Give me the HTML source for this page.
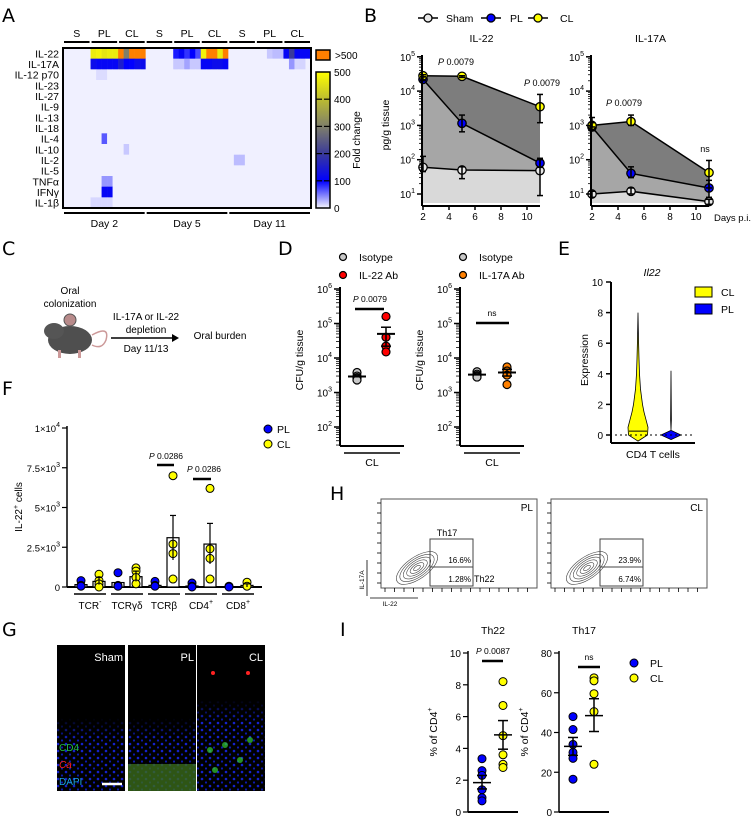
<!DOCTYPE html>
<html><head><meta charset="utf-8"><style>
html,body{margin:0;padding:0;background:#fff}
svg{display:block;font-family:"Liberation Sans",Arial,sans-serif}
</style></head><body>
<svg id="fig" width="756" height="816" viewBox="0 0 756 816" xmlns="http://www.w3.org/2000/svg">
<defs>
<linearGradient id="cbar" x1="0" y1="1" x2="0" y2="0">
<stop offset="0" stop-color="#f4f4fc"/><stop offset="0.2" stop-color="#0000ff"/><stop offset="0.4" stop-color="#3a3a9a"/><stop offset="0.6" stop-color="#7f7f6a"/><stop offset="0.8" stop-color="#bcbc30"/><stop offset="1" stop-color="#ffff00"/>
</linearGradient>
<pattern id="nuc" width="8" height="7" patternUnits="userSpaceOnUse"><circle cx="2" cy="2" r="1.3" fill="#1a2aff"/><circle cx="6" cy="5.5" r="1.1" fill="#1020e0"/></pattern>
<linearGradient id="fadeB" x1="0" y1="0" x2="0" y2="1"><stop offset="0" stop-color="#000" stop-opacity="1"/><stop offset="1" stop-color="#000" stop-opacity="0"/></linearGradient>
</defs>
<g font-family="DejaVu Sans, sans-serif" font-size="19" fill="#000">
<text x="2" y="22">A</text>
<text x="364" y="22">B</text>
<text x="2" y="255">C</text>
<text x="278" y="255">D</text>
<text x="558" y="255">E</text>
<text x="2" y="395">F</text>
<text x="2" y="636">G</text>
<text x="330" y="500">H</text>
<text x="340" y="636">I</text>
</g>
</svg>
<script>
const NS='http://www.w3.org/2000/svg';
const svg=document.getElementById('fig');
function mk(tag,attrs,name,parent){
  const el=document.createElementNS(NS,tag);
  for(const k in attrs) el.setAttribute(k,attrs[k]);
  
  
  (parent||svg).appendChild(el);
  return el;
}
function tx(x,y,s,name,o){
  o=o||{};
  const el=mk('text',{x:x,y:y,'font-size':o.fs||10,'text-anchor':o.a||'start',fill:o.fill||'#000'},name);
  if(o.it) el.setAttribute('font-style','italic');
  if(o.rot) el.setAttribute('transform','rotate(-90 '+x+' '+y+')');
  el.innerHTML=s;
  return el;
}
function ln(x1,y1,x2,y2,name,w,c){return mk('line',{x1:x1,y1:y1,x2:x2,y2:y2,stroke:c||'#000','stroke-width':w||1},name);}

/* ========== A: heatmap ========== */
const hmRows=['IL-22','IL-17A','IL-12 p70','IL-23','IL-27','IL-9','IL-13','IL-18','IL-4','IL-10','IL-2','IL-5','TNFα','IFNγ','IL-1β'];
const hmGroups=['S','PL','CL','S','PL','CL','S','PL','CL'];
const hmDays=['Day 2','Day 5','Day 11'];
const hmBase=4;
const hmHigh=[
[0,5,470],[0,6,480],[0,7,460],[0,8,470],[0,9,470],[0,10,600],[0,11,300],[0,12,600],[0,13,600],[0,14,600],
[0,20,90],[0,21,110],[0,22,80],[0,23,100],[0,24,70],[0,25,480],[0,26,600],[0,27,600],[0,28,470],[0,29,600],
[0,37,20],[0,38,25],[0,39,25],[0,40,110],[0,41,200],[0,42,110],[0,43,110],[0,44,110],
[1,5,120],[1,6,110],[1,7,110],[1,8,110],[1,9,110],[1,10,150],[1,11,100],[1,12,100],[1,13,120],[1,14,120],
[1,20,20],[1,21,20],[1,22,35],[1,23,20],[1,24,20],[1,25,110],[1,26,110],[1,27,120],[1,28,120],[1,29,110],[1,41,40],[1,42,15],[1,43,15],
[2,6,12],[2,7,12],[8,7,65],[9,11,20],[12,7,40],[12,8,40],[13,7,110],[13,8,110],[10,31,25],[10,32,25],[14,5,14],[14,6,14],[14,7,14],[14,8,14]
];
function hmColor(v){
  if(v>500) return '#ff8000';
  const st=[[0,[250,250,255]],[100,[0,0,255]],[200,[58,58,154]],[300,[127,127,106]],[400,[188,188,48]],[500,[255,255,0]]];
  for(let i=1;i<st.length;i++){ if(v<=st[i][0]){const a=st[i-1],b=st[i];const t=(v-a[0])/(b[0]-a[0]);
    return 'rgb('+a[1].map((c,j)=>Math.round(c+(b[1][j]-c)*t)).join(',')+')';}}
  return '#ffff00';
}
const hx0=63,hx1=311,hy0=48,hy1=208,nCols=45;
const cw=(hx1-hx0)/nCols, rh=(hy1-hy0)/hmRows.length;
const gHm=mk('g',{},'heatmap');
const vals=hmRows.map(()=>new Array(nCols).fill(hmBase));
hmHigh.forEach(h=>{vals[h[0]][h[1]]=h[2];});
vals.forEach((row,r)=>row.forEach((v,c)=>{
  const cell=mk('rect',{x:hx0+c*cw,y:hy0+r*rh,width:cw+0.3,height:rh+0.3,fill:hmColor(v)},'heatmap-cell',gHm);
}));
mk('rect',{x:hx0,y:hy0,width:hx1-hx0,height:hy1-hy0,fill:'none',stroke:'#000','stroke-width':2},'heatmap-border');
hmRows.forEach((n,r)=>tx(59,hy0+r*rh+rh/2+4,n,'row-label',{a:'end',fs:10.5}));
hmGroups.forEach((g,i)=>{
  const xa=hx0+i*5*cw+1, xb=hx0+(i+1)*5*cw-1;
  ln(xa,42,xb,42,'group-bracket',2);
  tx((xa+xb)/2,37,g,'group-label',{a:'middle',fs:10.5});
});
hmDays.forEach((d,i)=>{
  const xa=hx0+i*15*cw+1, xb=hx0+(i+1)*15*cw-1;
  ln(xa,213,xb,213,'day-bracket',2);
  tx((xa+xb)/2,227,d,'day-label',{a:'middle',fs:10.5});
});
mk('rect',{x:316,y:50,width:14,height:10,fill:'#ff8000',stroke:'#000','stroke-width':1.5},'colorbar-over');
tx(335,59,'&gt;500','colorbar-over-label',{fs:10});
mk('rect',{x:316,y:72,width:14,height:136,fill:'url(#cbar)',stroke:'#000','stroke-width':1.5},'colorbar');
const cbTicks=[0,100,200,300,400,500];
cbTicks.forEach(t=>{const y=208-t/500*136;
  if(t>0&&t<500){ln(316,y,322,y,'colorbar-dash',1.2);ln(324,y,330,y,'colorbar-dash',1.2);}
  tx(334,y+4,String(t),'colorbar-tick',{fs:10});
});
tx(360,140,'Fold change','colorbar-title',{rot:true,a:'middle',fs:10.5});

/* ========== B: line plots ========== */
const bDays=[2,5,11];
const il22Sham=[60,50,48], il22PL=[22000,1150,80], il22CL=[28000,27000,3500];
const il22ShamErr=[[45,125],[28,62],[9,100]], il22PLErr=[[20000,26000],[650,2000],[60,110]], il22CLErr=[[26000,30000],[25000,28000],[1200,8000]];
const il17Sham=[10,12,6], il17PL=[900,40,15], il17CL=[1000,1300,42];
const il17ShamErr=[[8,12],[10,15],[5,7]], il17PLErr=[[700,1700],[30,62],[8,25]], il17CLErr=[[900,1200],[1000,2000],[15,95]];
const bXTicks=[2,4,6,8,10];
const bYTicks=[1,2,3,4,5];
function logY(v){return 194-(Math.log10(v)-1)*34.3;}
function drawB(x2,title,sham,pl,cl,se,pe,ce,name){
  const X=d=>x2+(d-2)*13.0;
  const yb=203;
  const g=mk('g',{},name);
  const pts=a=>a.map((v,i)=>X(bDays[i])+','+logY(v)).join(' ');
  const rev=a=>a.map((v,i)=>X(bDays[i])+','+logY(v)).reverse().join(' ');
  mk('polygon',{points:X(2)+','+yb+' '+pts(sham)+' '+X(11)+','+yb,fill:'#d9d9d9'},'area-sham',g);
  mk('polygon',{points:pts(sham)+' '+rev(pl),fill:'#a6a6a6'},'area-pl',g);
  mk('polygon',{points:pts(pl)+' '+rev(cl),fill:'#7d7d7d'},'area-cl',g);
  [[sham,se,'none','sham'],[pl,pe,'#0000ff','pl'],[cl,ce,'#ffff00','cl']].forEach(s=>{
    mk('polyline',{points:pts(s[0]),fill:'none',stroke:'#000','stroke-width':1.5},'line-'+s[3],g);
    s[0].forEach((v,i)=>{const x=X(bDays[i]);
      ln(x,logY(s[1][i][0]),x,logY(s[1][i][1]),'errorbar-'+s[3],1.5);
      ln(x-3,logY(s[1][i][0]),x+3,logY(s[1][i][0]),'errorcap',1.5);
      ln(x-3,logY(s[1][i][1]),x+3,logY(s[1][i][1]),'errorcap',1.5);
      mk('circle',{cx:x,cy:logY(v),r:4.2,fill:s[2]==='none'?'#e8e8e8':s[2],stroke:'#000','stroke-width':1.3},'point-'+s[3],g);
    });
  });
  ln(x2-1,55,x2-1,206,'y-axis',2);
  ln(x2-1,206,X(11),206,'x-axis',2);
  bYTicks.forEach(p=>{const y=logY(Math.pow(10,p));ln(x2-6,y,x2-1,y,'y-tick',1.5);
    tx(x2-8,y+4,'10<tspan font-size="7" dy="-5">'+p+'</tspan>','y-tick-label',{a:'end',fs:10});
    for(let m=2;m<10&&p<5;m++){const ym=logY(m*Math.pow(10,p));ln(x2-4,ym,x2-1,ym,'minor-tick',0.8);}
  });
  bXTicks.forEach(d=>{ln(X(d),206,X(d),210,'x-tick',1.5);tx(X(d),220,String(d),'x-tick-label',{a:'middle',fs:10});});
  tx((x2+X(11))/2,42,title,'plot-title',{a:'middle',fs:10.5});
  return X;
}
drawB(423,'IL-22',il22Sham,il22PL,il22CL,il22ShamErr,il22PLErr,il22CLErr,'il22-plot');
drawB(592,'IL-17A',il17Sham,il17PL,il17CL,il17ShamErr,il17PLErr,il17CLErr,'il17a-plot');
tx(389,125,'pg/g tissue','y-axis-title',{rot:true,a:'middle',fs:10.5});
tx(714,221,'Days p.i.','x-axis-title',{fs:9.5});
tx(456,65,'<tspan font-style="italic">P</tspan> 0.0079','p-value',{a:'middle',fs:9});
tx(542,86,'<tspan font-style="italic">P</tspan> 0.0079','p-value',{a:'middle',fs:9});
tx(624,106,'<tspan font-style="italic">P</tspan> 0.0079','p-value',{a:'middle',fs:9});
tx(705,152,'ns','ns-label',{a:'middle',fs:9});
[['Sham','#e8e8e8',418,446],['PL','#0000ff',481,510],['CL','#ffff00',528,560]].forEach(l=>{
  ln(l[2],18,l[2]+20,18,'legend-line',1.5);
  mk('circle',{cx:l[2]+10,cy:18,r:4,fill:l[1],stroke:'#000','stroke-width':1.3},'legend-marker');
  tx(l[3],22,l[0],'legend-label',{fs:10.5});
});

/* ========== C: schematic ========== */
tx(70,294,'Oral','schematic-text',{a:'middle',fs:10});
tx(70,307,'colonization','schematic-text',{a:'middle',fs:10});
const mouse=mk('g',{},'mouse-illustration');
mk('path',{d:'M92 335 Q110 325 106 340 Q102 350 92 345',fill:'none',stroke:'#c99','stroke-width':1.5},'mouse-tail',mouse);
mk('ellipse',{cx:70,cy:340,rx:22,ry:14,fill:'#4f4f4f'},'mouse-body',mouse);
mk('ellipse',{cx:54,cy:331,rx:10,ry:8,fill:'#555'},'mouse-head',mouse);
mk('circle',{cx:70,cy:320,r:6,fill:'#b88b8b',stroke:'#555'},'mouse-ear',mouse);
mk('rect',{x:58,y:350,width:3,height:8,fill:'#c99'},'mouse-leg',mouse);
mk('rect',{x:78,y:350,width:3,height:8,fill:'#c99'},'mouse-leg',mouse);
tx(146,320,'IL-17A or IL-22','schematic-text',{a:'middle',fs:10});
tx(146,333,'depletion','schematic-text',{a:'middle',fs:10});
ln(111,338,172,338,'arrow-line',1.5);
mk('polygon',{points:'172,334 179,338 172,342',fill:'#000'},'arrow-head');
tx(146,352,'Day 11/13','schematic-text',{a:'middle',fs:10});
tx(220,339,'Oral burden','schematic-text',{a:'middle',fs:10});

/* ========== D: CFU scatter ========== */
const dIso1=[3800,3000,2700,2500,2300], dAb22=[160000,40000,22000,15000];
const dIso1Mean=2900, dAb22Mean=50000, dAb22Err=[22000,78000];
const dIso2=[4000,3400,3100,2900,2800], dAb17=[5500,4200,3200,1700];
const dIso2Mean=3300, dAb17Mean=3800, dAb17Err=[3000,4700];
const dTicks=[2,3,4,5,6];
const dY=v=>289+(6-Math.log10(v))*34.5;
function drawD(ax,xi,xa,iso,ab,im,am,ae,col,name){
  const g=mk('g',{},name);
  ln(ax,287,ax,446,'y-axis',2); ln(ax,446,ax+64,446,'x-axis',2);
  ln(ax+4,453,ax+60,453,'group-line',1.5);
  tx(ax+32,466,'CL','x-label',{a:'middle',fs:10.5});
  dTicks.forEach(p=>{const y=dY(Math.pow(10,p));ln(ax-6,y,ax,y,'y-tick',1.5);
    tx(ax-8,y+4,'10<tspan font-size="7" dy="-5">'+p+'</tspan>','y-tick-label',{a:'end',fs:10});
    for(let m=2;m<10;m++){const ym=dY(m*Math.pow(10,p-1));if(ym<446)ln(ax-4,ym,ax,ym,'minor-tick',0.8);}
  });
  iso.forEach(v=>mk('circle',{cx:xi,cy:dY(v),r:4,fill:'#c8c8c8',stroke:'#000','stroke-width':1.2},'point-isotype',g));
  ab.forEach(v=>mk('circle',{cx:xa,cy:dY(v),r:4,fill:col,stroke:'#000','stroke-width':1.2},'point-antibody',g));
  ln(xi-9,dY(im),xi+9,dY(im),'mean-line',2);
  ln(xa-9,dY(am),xa+9,dY(am),'mean-line',2);
  ln(xa,dY(ae[0]),xa,dY(ae[1]),'errorbar',1.5);
  ln(xa-5,dY(ae[0]),xa+5,dY(ae[0]),'errorcap',1.5);ln(xa-5,dY(ae[1]),xa+5,dY(ae[1]),'errorcap',1.5);
}
drawD(340,357,386,dIso1,dAb22,dIso1Mean,dAb22Mean,dAb22Err,'#ff0000','d-il22-plot');
drawD(460,477,507,dIso2,dAb17,dIso2Mean,dAb17Mean,dAb17Err,'#ff8000','d-il17a-plot');
tx(303,360,'CFU/g tissue','y-axis-title',{rot:true,a:'middle',fs:10.5});
tx(423,360,'CFU/g tissue','y-axis-title',{rot:true,a:'middle',fs:10.5});
ln(355,309,384,309,'sig-bar',2.5);
tx(370,302,'<tspan font-style="italic">P</tspan> 0.0079','p-value',{a:'middle',fs:8.5});
ln(476,323,509,323,'sig-bar',2.5);
tx(492,316,'ns','ns-label',{a:'middle',fs:8.5});
[[343,257,'#c8c8c8','Isotype'],[343,275,'#ff0000','IL-22 Ab'],[463,257,'#c8c8c8','Isotype'],[463,275,'#ff8000','IL-17A Ab']].forEach(l=>{
  mk('circle',{cx:l[0],cy:l[1],r:3.5,fill:l[2],stroke:'#000','stroke-width':1.2},'legend-marker');
  tx(l[0]+16,l[1]+4,l[3],'legend-label',{fs:10.5});
});

/* ========== E: violin ========== */
const eTicks=[0,2,4,6,8,10];
const eCLLevels=[-0.4,0,0.5,1,1.5,2,2.5,3,4,5,6,7,8];
const eCLWidth=[0,9.5,10,8,6,4.5,3.5,2.5,1.5,1,0.6,0.3,0];
const ePLLevels=[-0.3,0,0.3,1,4.2];
const ePLWidth=[0,10,0,0.4,0];
const eY=v=>435-v*15.3;
ln(611,282,611,443,'y-axis',2); ln(611,443,695,443,'x-axis',2);
eTicks.forEach(t=>{ln(606,eY(t),611,eY(t),'y-tick',1.5);tx(603,eY(t)+4,String(t),'y-tick-label',{a:'end',fs:10});});
function violin(cx,lv,wd,col,name){
  let d='M'+(cx)+','+eY(lv[0]);
  lv.forEach((v,i)=>{d+=' L'+(cx+wd[i])+','+eY(v);});
  for(let i=lv.length-1;i>=0;i--) d+=' L'+(cx-wd[i])+','+eY(lv[i]);
  mk('path',{d:d+'Z',fill:col,stroke:'#000','stroke-width':0.8},name);
}
violin(638,eCLLevels,eCLWidth,'#ffff00','violin-cl');
violin(671,ePLLevels,ePLWidth,'#0000ff','violin-pl');
ln(629,eY(0.25),647,eY(0.25),'median-line',1);
ln(615,eY(0),692,eY(0),'zero-line',1).setAttribute('stroke-dasharray','2,3');
tx(652,276,'Il22','gene-title',{a:'middle',fs:10.5,it:true});
tx(588,360,'Expression','y-axis-title',{rot:true,a:'middle',fs:10.5});
tx(653,458,'CD4 T cells','x-label',{a:'middle',fs:10.5});
mk('rect',{x:695,y:287,width:17,height:10,fill:'#ffff00',stroke:'#000','stroke-width':1},'legend-swatch-cl');
tx(721,296,'CL','legend-label',{fs:10.5});
mk('rect',{x:695,y:304,width:17,height:10,fill:'#0000ff',stroke:'#000','stroke-width':1},'legend-swatch-pl');
tx(721,313,'PL','legend-label',{fs:10.5});

/* ========== F: bar chart ========== */
const fCats=['TCR<tspan font-size="7" dy="-5">-</tspan>','TCRγδ','TCRβ','CD4<tspan font-size="7" dy="-5">+</tspan>','CD8<tspan font-size="7" dy="-5">+</tspan>'];
const fPL=[[400,100,50],[900,100,50],[350,100,50],[250,50,0],[50,0]];
const fCL=[[800,400,200,0],[1200,1000,600,200],[7000,2700,2100,500],[6200,2400,1800,500],[300,50]];
const fPLMean=[150,280,100,60,20];
const fCLMean=[350,650,3100,2700,100];
const fCLErr=[[150,600],[350,1000],[1700,4500],[1450,4000],[0,200]];
const fYTicks=[0,2500,5000,7500,10000];
const fYLabels=['0','2.5×10<tspan font-size="7" dy="-5">3</tspan>','5×10<tspan font-size="7" dy="-5">3</tspan>','7.5×10<tspan font-size="7" dy="-5">3</tspan>','1×10<tspan font-size="7" dy="-5">4</tspan>'];
const fY=v=>587-v*0.0159;
const fX0=[81,118,155,192,229];
ln(67,426,67,587,'y-axis',1.5); ln(67,587,262,587,'x-axis',2);
fYTicks.forEach((t,i)=>{ln(62,fY(t),67,fY(t),'y-tick',1.2);tx(60,fY(t)+4,fYLabels[i],'y-tick-label',{a:'end',fs:9.5});});
fCats.forEach((c,i)=>{
  const xp=fX0[i], xc=xp+18;
  [[xp,fPLMean[i],fPL[i],'#0000ff','pl'],[xc,fCLMean[i],fCL[i],'#ffff00','cl']].forEach(s=>{
    mk('rect',{x:s[0]-6,y:fY(s[1]),width:12,height:587-fY(s[1]),fill:'#fff',stroke:'#000','stroke-width':1.2},'bar-'+s[4]);
    s[2].forEach(v=>mk('circle',{cx:s[0],cy:fY(v),r:4,fill:s[3],stroke:'#000','stroke-width':1},'point-'+s[4]));
  });
  ln(xc,fY(fCLErr[i][0]),xc,fY(fCLErr[i][1]),'errorbar',1.2);
  ln(xc-3,fY(fCLErr[i][1]),xc+3,fY(fCLErr[i][1]),'errorcap',1.2);
  ln(xp-7,594,xc+7,594,'group-line',1.5);
  tx(xp+9,609,c,'x-label',{a:'middle',fs:10});
});
tx(22,507,'IL-22<tspan font-size="7" dy="-4">+</tspan><tspan dy="4"> cells</tspan>','y-axis-title',{rot:true,a:'middle',fs:10});
ln(157,465,174,465,'sig-bar',2.5);
tx(166,459,'<tspan font-style="italic">P</tspan> 0.0286','p-value',{a:'middle',fs:8.5});
ln(193,479,211,479,'sig-bar',2.5);
tx(204,472,'<tspan font-style="italic">P</tspan> 0.0286','p-value',{a:'middle',fs:8.5});
mk('circle',{cx:268,cy:429,r:4,fill:'#0000ff',stroke:'#000'},'legend-marker-pl');
tx(277,433,'PL','legend-label',{fs:10.5});
mk('circle',{cx:268,cy:444,r:4,fill:'#ffff00',stroke:'#000'},'legend-marker-cl');
tx(277,448,'CL','legend-label',{fs:10.5});

/* ========== G: micrographs ========== */
[[57,'Sham',0],[128,'PL',1],[197,'CL',2]].forEach(p=>{
  const g=mk('g',{},'micrograph-'+p[1].toLowerCase());
  mk('rect',{x:p[0],y:645,width:68,height:146,fill:'#000'},'micrograph-bg',g);
  mk('rect',{x:p[0],y:p[2]===2?700:718,width:68,height:p[2]===2?91:73,fill:'url(#nuc)',opacity:0.8},'nuclei',g);
  mk('rect',{x:p[0],y:p[2]===2?700:718,width:68,height:22,fill:'url(#fadeB)'},'fade',g);
  if(p[2]===1) mk('rect',{x:p[0],y:764,width:68,height:27,fill:'#3a6a1a',opacity:0.8},'muscle',g);
  if(p[2]===2){[[210,750],[225,745],[240,760],[215,770],[250,740]].forEach(c=>mk('circle',{cx:c[0],cy:c[1],r:3,fill:'#3c3',opacity:0.7},'cd4-cell',g));
    mk('circle',{cx:213,cy:673,r:2,fill:'#f22'},'candida',g);mk('circle',{cx:248,cy:673,r:2,fill:'#f22'},'candida',g);}
  tx(p[0]+66,661,p[1],'micrograph-label',{a:'end',fs:11,fill:'#fff'});
});
tx(59,751,'CD4','stain-label',{fs:10,fill:'#22bb44'});
tx(59,768,'Ca','stain-label',{fs:10,fill:'#ff2020',it:true});
tx(59,785,'DAPI','stain-label',{fs:10,fill:'#1aa0e0'});
ln(102,784,122,784,'scale-bar',2.5,'#fff');

/* ========== H: flow plots ========== */
const hGates=[['PL','16.6%','1.28%',381,430],['CL','23.9%','6.74%',551,600]];
hGates.forEach(h=>{
  const x0=h[3], g=mk('g',{},'flow-plot-'+h[0].toLowerCase());
  mk('rect',{x:x0,y:499,width:156,height:89,fill:'#fff',stroke:'#555','stroke-width':1},'flow-frame',g);
  for(let k=1;k<=6;k++) mk('ellipse',{cx:x0+36,cy:568,rx:4*k,ry:1.8*k,transform:'rotate(-35 '+(x0+36)+' 568)',fill:'none',stroke:'#444','stroke-width':0.6},'contour',g);
  mk('rect',{x:h[4],y:539,width:43,height:47,fill:'none',stroke:'#444'},'gate',g);
  ln(h[4],567,h[4]+43,567,'gate-divider',1,'#444');
  tx(x0+152,511,h[0],'flow-label',{a:'end',fs:10});
  tx(h[4]+41,563,h[1],'gate-pct',{a:'end',fs:8});
  tx(h[4]+41,582,h[2],'gate-pct',{a:'end',fs:8});
  for(let t=0;t<16;t++) ln(x0+4+t*9.5,588,x0+4+t*9.5,592,'axis-tick',0.8);
  for(let t=0;t<9;t++) ln(x0-4,503+t*10,x0,503+t*10,'axis-tick',0.8);
});
tx(447,536,'Th17','gate-name',{a:'middle',fs:9});
tx(474,582,'Th22','gate-name',{fs:9});
ln(367,596,367,560,'axis-arrow',0.8);
tx(364,580,'IL-17A','flow-axis-title',{rot:true,a:'middle',fs:6.5});
ln(370,598,418,598,'axis-arrow',0.8);
tx(390,606,'IL-22','flow-axis-title',{a:'middle',fs:6.5});

/* ========== I: scatter ========== */
const th22PL=[3.35,2.6,2.3,1.4,0.9,0.7], th22CL=[8.2,6.7,4.8,3.6,3.0,2.8];
const th22PLMean=1.85, th22PLErr=[1.45,2.3], th22CLMean=4.85, th22CLErr=[3.95,5.75];
const th17PL=[48,41.5,34,30,27,16.5], th17CL=[67.5,66,59.5,50.5,24];
const th17PLMean=33, th17PLErr=[28.5,37.5], th17CLMean=48.5, th17CLErr=[40.5,57];
const th22Ticks=[0,2,4,6,8,10], th17Ticks=[0,20,40,60,80];
function drawI(ax,max,ticks,pl,cl,pm,pe,cm,ce,title,name){
  const Y=v=>812-v*(159/max);
  const g=mk('g',{},name);
  ln(ax,651,ax,812,'y-axis',1.5); ln(ax,812,ax+50,812,'x-axis',2);
  ticks.forEach(t=>{ln(ax-5,Y(t),ax,Y(t),'y-tick',1.2);tx(ax-7,Y(t)+4,String(t),'y-tick-label',{a:'end',fs:10});});
  const xp=ax+14, xc=ax+35;
  pl.forEach(v=>mk('circle',{cx:xp,cy:Y(v),r:4,fill:'#0000ff',stroke:'#000'},'point-pl',g));
  cl.forEach(v=>mk('circle',{cx:xc,cy:Y(v),r:4,fill:'#ffff00',stroke:'#000'},'point-cl',g));
  [[xp,pm,pe],[xc,cm,ce]].forEach(s=>{
    ln(s[0]-9,Y(s[1]),s[0]+9,Y(s[1]),'mean-line',1.5);
    ln(s[0],Y(s[2][0]),s[0],Y(s[2][1]),'errorbar',1.5);
    ln(s[0]-5,Y(s[2][0]),s[0]+5,Y(s[2][0]),'errorcap',1.5);ln(s[0]-5,Y(s[2][1]),s[0]+5,Y(s[2][1]),'errorcap',1.5);
  });
  tx(ax+25,634,title,'plot-title',{a:'middle',fs:10.5});
  tx(ax-31,732,'% of CD4<tspan font-size="7" dy="-5">+</tspan>','y-axis-title',{rot:true,a:'middle',fs:10.5});
}
drawI(468,10,th22Ticks,th22PL,th22CL,th22PLMean,th22PLErr,th22CLMean,th22CLErr,'Th22','th22-plot');
drawI(559,80,th17Ticks,th17PL,th17CL,th17PLMean,th17PLErr,th17CLMean,th17CLErr,'Th17','th17-plot');
ln(482,661,503,661,'sig-bar',2.5);
tx(493,654,'<tspan font-style="italic">P</tspan> 0.0087','p-value',{a:'middle',fs:8.5});
ln(578,667,600,667,'sig-bar',2.5);
tx(589,660,'ns','ns-label',{a:'middle',fs:8.5});
mk('circle',{cx:634,cy:663,r:4,fill:'#0000ff',stroke:'#000'},'legend-marker-pl');
tx(650,667,'PL','legend-label',{fs:10.5});
mk('circle',{cx:634,cy:678,r:4,fill:'#ffff00',stroke:'#000'},'legend-marker-cl');
tx(650,682,'CL','legend-label',{fs:10.5});
</script>
</body></html>
